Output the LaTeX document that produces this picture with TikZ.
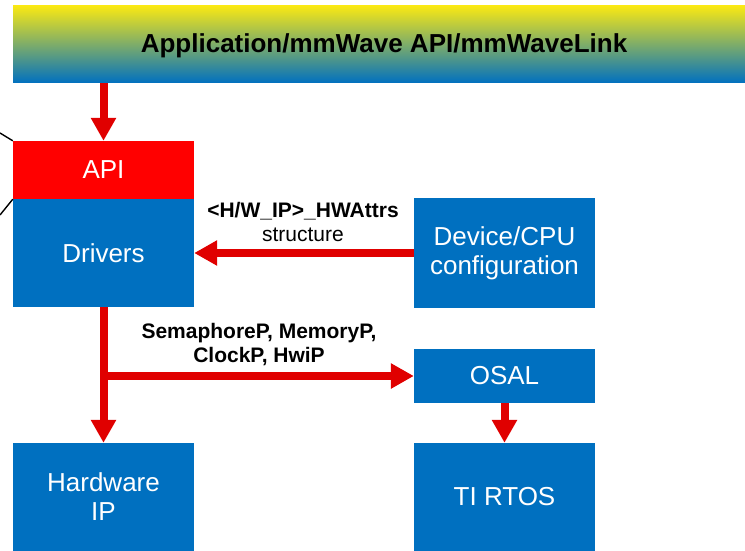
\documentclass[tikz,border=0pt]{standalone}
\usepackage{fontspec}
\setmainfont{Liberation Sans}
\usetikzlibrary{arrows.meta}
\definecolor{tiblue}{HTML}{0070C0}
\definecolor{apired}{HTML}{FF0000}
\definecolor{arrred}{HTML}{E00000}
\definecolor{banyel}{HTML}{F9E814}
\tikzset{
  blk/.style={fill=tiblue, text=white, inner sep=0pt, minimum width=181pt, align=center,
              font=\fontsize{26}{29}\selectfont},
  arr/.style={draw=arrred, line width=8pt, -{Triangle[length=23pt,width=24pt]}},
  lbl/.style={align=center, inner sep=0pt, font=\fontsize{21}{24}\selectfont},
  thin/.style={draw=black, line width=1.4pt}
}
\begin{document}
\begin{tikzpicture}[x=1pt,y=-1pt]
\useasboundingbox (0,0) rectangle (745,551);
\node[inner sep=0pt, minimum width=732pt, minimum height=77pt, top color=banyel, bottom color=tiblue] (ban) at (379,44.5) {};
\node[inner sep=0pt, font=\bfseries\fontsize{26}{30}\selectfont] (ttl) at (384,46) {Application/mmWave API/mmWaveLink};
\node[blk, fill=apired, minimum height=58pt] (api) at (103.5,170) {API};
\node[blk, minimum height=108pt] (drv) at (103.5,253) {Drivers};
\node[blk, minimum height=110pt] (dev) at (504.5,253) {\raisebox{-4pt}{\parbox{181pt}{\centering Device/CPU\\configuration}}};
\node[blk, minimum height=54pt] (osal) at (504.5,376) {OSAL};
\node[blk, minimum height=108pt] (rtos) at (504.5,497) {TI RTOS};
\node[blk, minimum height=108pt] (hw) at (103.5,497) {Hardware\\IP};
\node[lbl] (l1) at (303,222) {\textbf{<H/W\_IP>\_HWAttrs}\\structure};
\node[lbl, font=\bfseries\fontsize{21}{24}\selectfont] (l2) at (259,345) {SemaphoreP, MemoryP,\\ClockP, HwiP};
\coordinate (c1) at (0,133);
\coordinate (c2) at (0,215);
\draw[arr] (api.north |- ban.south) -- (api.north);
\draw[arr] (dev.west) -- (drv.east);
\draw[arr] (drv.south) -- (hw.north);
\draw[arr] (drv.south |- osal.west) -- (osal.west);
\draw[arr] (osal.south) -- (rtos.north);
\draw[thin] (c1) -- (api.north west);
\draw[thin] (api.south west) -- (c2);
\end{tikzpicture}
\end{document}
